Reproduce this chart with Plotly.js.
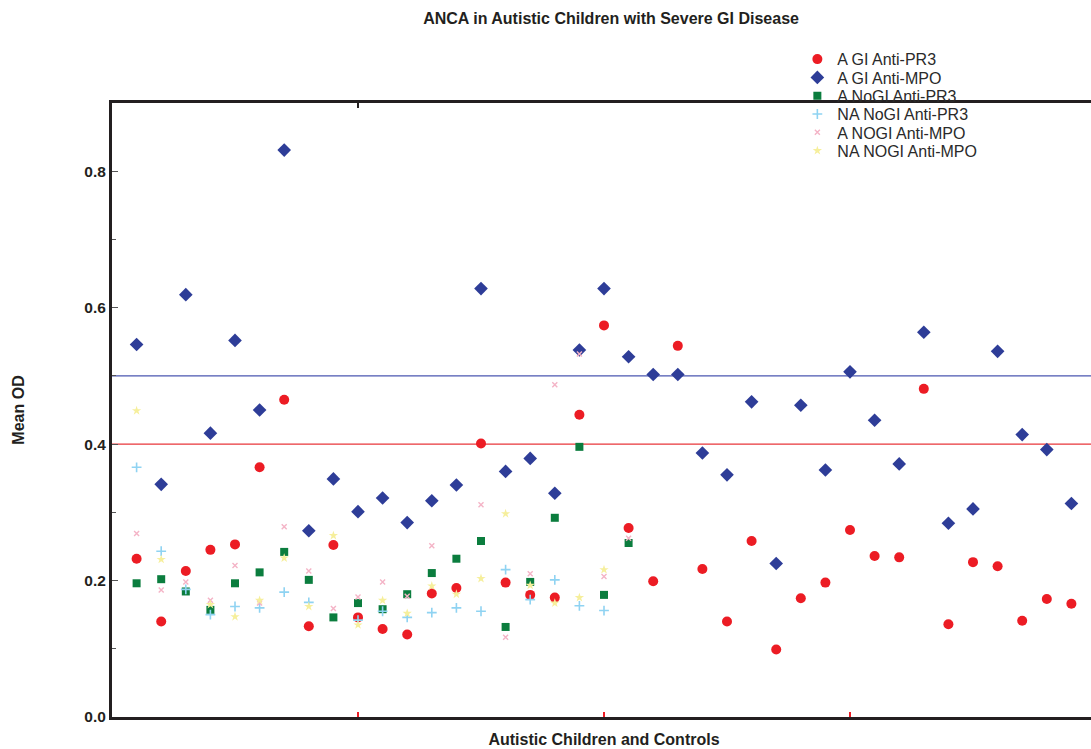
<!DOCTYPE html>
<html>
<head>
<meta charset="utf-8">
<script src="https://cdn.plot.ly/plotly-3.0.1.min.js"></script>
<style>
html,body{margin:0;padding:0;overflow:hidden;background:#fff;}
#chart{width:1100px;height:749px;}
</style>
</head>
<body>
<div id="chart"></div>
<script>
// Subject index on the x axis
const subjects = [1,2,3,4,5,6,7,8,9,10,11,12,13,14,15,16,17,18,19,20,21,22,23,24,25,26,27,28,29,30,31,32,33,34,35,36,37,38,39];

// Series values (Mean OD)
const aGiPR3 = [0.232,0.140,0.214,0.245,0.253,0.366,0.465,0.133,0.252,0.146,0.129,0.121,0.181,0.189,0.401,0.197,0.179,0.175,0.443,0.574,0.277,0.199,0.544,0.217,0.140,0.258,0.099,0.174,0.197,0.274,0.236,0.234,0.481,0.136,0.227,0.221,0.141,0.173,0.166];
const aGiMPO = [0.546,0.341,0.619,0.416,0.552,0.450,0.831,0.273,0.349,0.301,0.321,0.285,0.317,0.340,0.628,0.360,0.379,0.328,0.538,0.628,0.528,0.502,0.502,0.387,0.355,0.462,0.225,0.457,0.362,0.506,0.435,0.371,0.564,0.284,0.305,0.536,0.414,0.392,0.313];
const aNoGiPR3 = [0.196,0.202,0.184,0.157,0.196,0.212,0.242,0.201,0.146,0.167,0.158,0.180,0.211,0.232,0.258,0.132,0.198,0.292,0.396,0.179,0.255];
const naNoGiPR3 = [0.366,0.243,0.187,0.150,0.162,0.160,0.183,0.168,null,0.142,0.155,0.146,0.153,0.160,0.155,0.216,0.172,0.201,0.163,0.156];
const aNoGiMPO = [0.269,0.186,0.198,0.171,0.222,0.167,0.279,0.214,0.159,0.176,0.198,0.177,0.251,null,0.311,0.117,0.210,0.487,0.532,0.206,0.262];
const naNoGiMPO = [0.449,0.231,null,0.165,0.147,0.171,0.233,0.162,0.266,0.135,0.171,0.152,0.192,0.180,0.203,0.298,0.193,0.167,0.175,0.216];

// Cut-off lines
const cutoffValues = [0.5, 0.4];
const cutoffColors = ['#4a56b0', '#e8363a'];

// Axis ticks
const yTickVals = [0.0, 0.2, 0.4, 0.6, 0.8];
const yTickText = ['0.0', '0.2', '0.4', '0.6', '0.8'];
const xTickVals = [10, 20, 30];

const seriesNames = ['A GI Anti-PR3','A GI Anti-MPO','A NoGI Anti-PR3','NA NoGI Anti-PR3','A NOGI Anti-MPO','NA NOGI Anti-MPO'];
const legendIds = ['legend','legend2','legend3','legend4','legend5','legend6'];

function xs(arr){ return subjects.slice(0, arr.length); }

const traces = [
  {x: xs(aGiPR3), y: aGiPR3, name: seriesNames[0], legend: legendIds[0], type:'scatter', mode:'markers',
   marker:{symbol:'circle', size:10, color:'#ec1c24'}},
  {x: xs(aGiMPO), y: aGiMPO, name: seriesNames[1], legend: legendIds[1], type:'scatter', mode:'markers',
   marker:{symbol:'diamond', size:10.5, color:'#2e3d98'}},
  {x: xs(aNoGiPR3), y: aNoGiPR3, name: seriesNames[2], legend: legendIds[2], type:'scatter', mode:'markers',
   marker:{symbol:'square', size:8, color:'#0b7d3e'}},
  {x: xs(naNoGiPR3), y: naNoGiPR3, name: seriesNames[3], legend: legendIds[3], type:'scatter', mode:'markers',
   marker:{symbol:'cross-thin-open', size:7, color:'#8fd3f2', line:{color:'#8fd3f2', width:1.6}}},
  {x: xs(aNoGiMPO), y: aNoGiMPO, name: seriesNames[4], legend: legendIds[4], type:'scatter', mode:'markers',
   marker:{symbol:'x-thin-open', size:5, color:'#f4b3c6', line:{color:'#f4b3c6', width:1.4}}},
  {x: xs(naNoGiMPO), y: naNoGiMPO, name: seriesNames[5], legend: legendIds[5], type:'scatter', mode:'markers',
   marker:{symbol:'star', size:7, color:'#f6ef9c'}},
  // invisible trace to carry the top axis tick
  {x: [0, 40], y: [0, 0], xaxis:'x2', yaxis:'y', type:'scatter', mode:'markers',
   marker:{opacity:0}, showlegend:false, hoverinfo:'skip'}
];

const shapes = cutoffValues.map((v, i) => ({
  type:'line', xref:'paper', x0:0, x1:1, yref:'y', y0:v, y1:v,
  line:{color:cutoffColors[i], width:1.3}, layer:'below'
}));

const layout = {
  width: 1100, height: 749,
  margin: {l:112, r:4, t:103, b:32},
  paper_bgcolor:'#ffffff', plot_bgcolor:'#ffffff',
  font: {family:'Liberation Sans, Arial, sans-serif', color:'#231f20'},
  title: {text:'<b>ANCA in Autistic Children with Severe GI Disease</b>',
          font:{size:16, color:'#231f20'}, xref:'container', x:0.5555, xanchor:'center',
          yref:'container', y:1-18/749, yanchor:'middle'},
  showlegend: true,
  xaxis: {range:[0,40], showgrid:false, zeroline:false,
          showline:true, linecolor:'#231f20', linewidth:3,
          ticks:'inside', tickvals:xTickVals, ticklen:5, tickwidth:1.2, tickcolor:'#ec1c24',
          showticklabels:false,
          title:{text:'<b>Autistic Children and Controls</b>', font:{size:16, color:'#231f20'}, standoff:15}},
  xaxis2: {range:[0,40], overlaying:'x', side:'top', showgrid:false, zeroline:false,
          showline:true, linecolor:'#231f20', linewidth:3,
          ticks:'inside', tickvals:[10], ticklen:5, tickwidth:1.2, tickcolor:'#231f20',
          showticklabels:false},
  yaxis: {range:[0,0.9], showgrid:false, zeroline:false,
          showline:true, linecolor:'#231f20', linewidth:3, mirror:false,
          ticks:'inside', tickvals:yTickVals, ticktext:yTickText, ticklen:6, tickwidth:1.2, tickcolor:'#555',
          minor:{tickvals:[0.1,0.3,0.5,0.7], ticks:'inside', ticklen:4, tickcolor:'#555', tickwidth:1},
          tickfont:{size:15.5, color:'#231f20', family:'Liberation Sans, Arial, sans-serif', weight:'bold'},
          title:{text:'<b>Mean OD</b>', font:{size:16, color:'#231f20'}, standoff:56}},
  shapes: shapes
};

// one single-entry legend per series, stacked with the reference's row spacing
const rowStep = 18.3 / 614;
legendIds.forEach((id, k) => {
  layout[id] = {x:0.6965, xanchor:'left', y:1.099 - k*rowStep, yanchor:'top',
                bgcolor:'rgba(0,0,0,0)', font:{size:16, color:'#2a2a2a'}};
});

Plotly.newPlot('chart', traces, layout, {displayModeBar:false, staticPlot:true});
</script>
</body>
</html>
